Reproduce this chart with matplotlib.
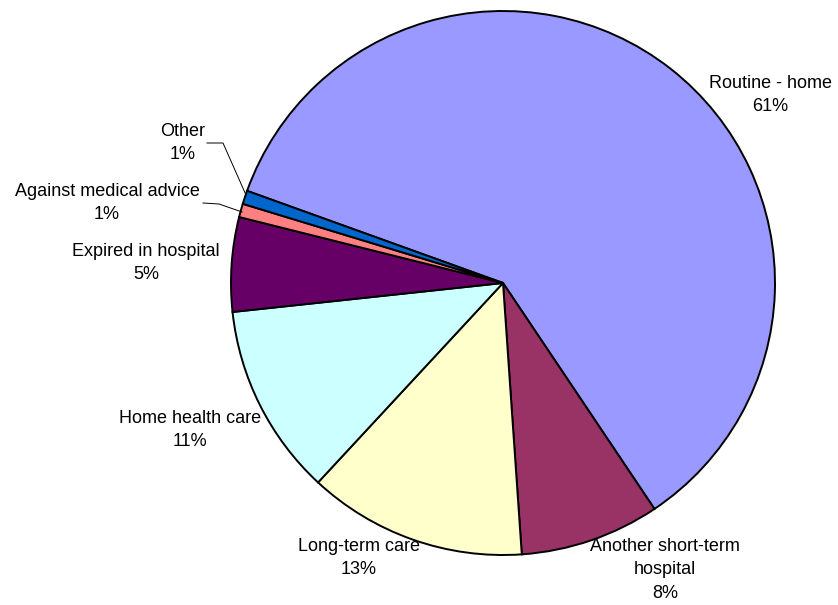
import matplotlib
matplotlib.use("Agg")
import matplotlib.pyplot as plt

# data (clockwise from the top-left)
categories = ['Routine - home', 'Another short-term\nhospital', 'Long-term care',
              'Home health care', 'Expired in hospital', 'Against medical advice', 'Other']
shares = [60.1, 8.3, 13.0, 11.4, 5.6, 0.8, 0.8]
pct_labels = ['61%', '8%', '13%', '11%', '5%', '1%', '1%']
colors = ['#9999FF', '#993366', '#FFFFCC', '#CCFFFF', '#660066', '#FF8080', '#0066CC']

W, H = 838, 605
cx, cy, r = 503, 283, 272

fig = plt.figure(figsize=(W / 100, H / 100), dpi=100)
ax = fig.add_axes([(cx - r) / W, (H - cy - r) / H, 2 * r / W, 2 * r / H])

ax.pie(shares, colors=colors, startangle=160.2, counterclock=False,
       wedgeprops=dict(edgecolor='black', linewidth=1.4), radius=1.0)
ax.set_xlim(-1, 1)
ax.set_ylim(-1, 1)
ax.set_aspect('auto')
ax.axis('off')


def px(x, y):
    # pixel position -> data coords of the pie axes
    return (x - cx) / r, (cy - y) / r


# label centres, in pixels of the picture
label_pos = [(770, 95), (665, 570), (359, 558), (190, 430), (146, 263), (107, 203), (183, 143)]
for name, pct, (lx, ly) in zip(categories, pct_labels, label_pos):
    x, y = px(lx, ly)
    ax.text(x, y, name + '\n' + pct, ha='center', va='center', fontsize=13,
            family='Liberation Sans', linespacing=1.5, color='black', clip_on=False)

# leader lines for the two small slices
leaders = [[(207, 143), (223, 143), (246, 195)],
           [(203, 203), (219, 204), (242, 212)]]
for pts in leaders:
    xs, ys = zip(*[px(a, b) for a, b in pts])
    ax.plot(xs, ys, color='black', linewidth=0.7, clip_on=False)

fig.savefig('out.png', dpi=100, facecolor='white')
